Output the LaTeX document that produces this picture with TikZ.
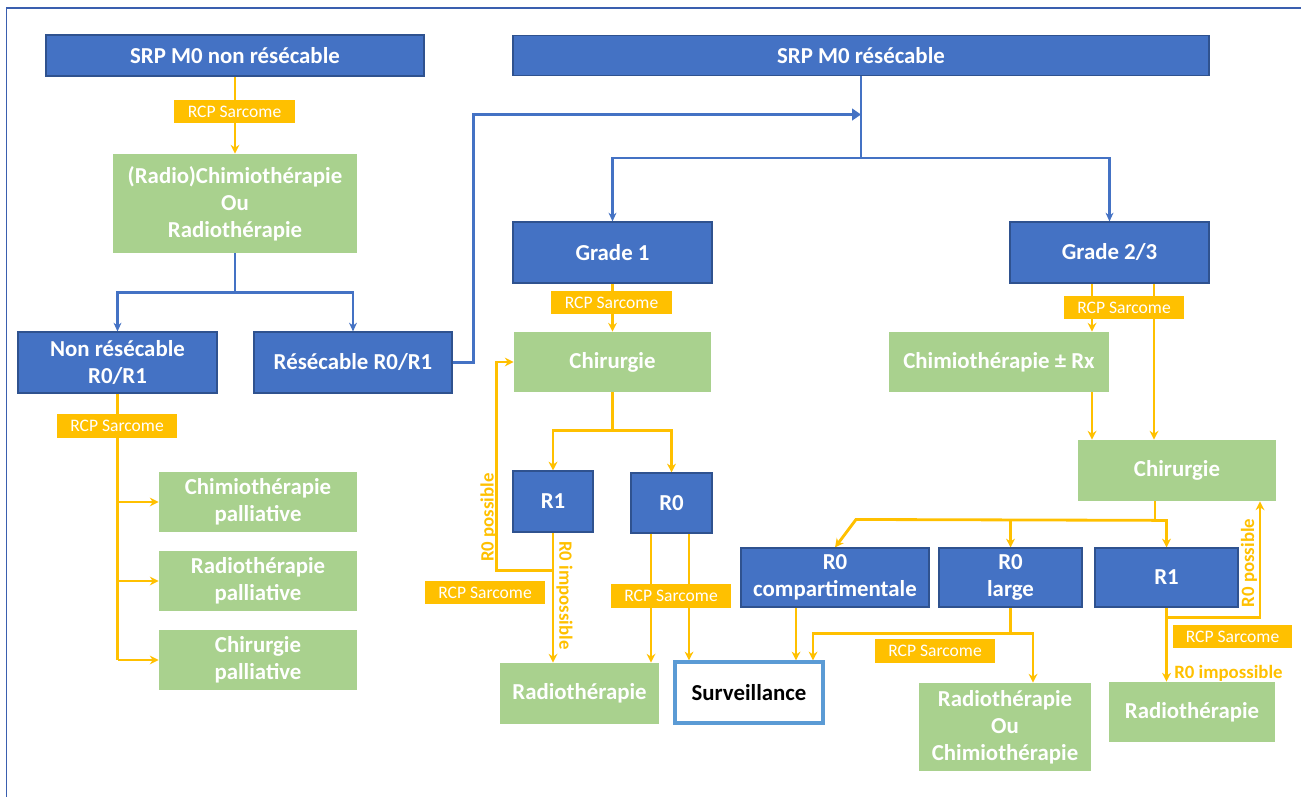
\documentclass[tikz,border=0pt]{standalone}
\usepackage{fontspec}
\setmainfont{Carlito}
\usetikzlibrary{arrows.meta,backgrounds}
\definecolor{boxblue}{HTML}{4472C4}
\definecolor{edgeblue}{HTML}{2F528F}
\definecolor{boxgreen}{HTML}{A9D18E}
\definecolor{rcporange}{HTML}{FFC000}
\definecolor{survblue}{HTML}{5B9BD5}
\definecolor{framecol}{HTML}{3A5FAF}
\tikzset{wh/.style 2 args={minimum width=#1*\px, minimum height=#2*\px}}

\begin{document}
\begin{tikzpicture}[x=0.02cm,y=-0.02cm]
	\def\px{0.02cm}
	\tikzstyle{boxbase} = [rectangle, inner sep=0pt, align=center, font=\bfseries\fontsize{13}{15.3}\selectfont];
	\tikzstyle{bluebox} = [boxbase, draw=edgeblue, line width=0.6pt, fill=boxblue, text=white];
	\tikzstyle{greenbox} = [boxbase, fill=boxgreen, text=white];
	\tikzstyle{survbox} = [boxbase, draw=survblue, line width=1.8pt, fill=white, text=black];
	\tikzstyle{rcp} = [rectangle, inner sep=0pt, fill=rcporange, text=white, font=\fontsize{10}{12}\selectfont];
	\tikzstyle{rnote} = [inner sep=0pt, text=rcporange, font=\bfseries\fontsize{10.7}{12}\selectfont];
	\tikzstyle{bline} = [draw=boxblue, line width=1.6pt];
	\tikzstyle{oline} = [draw=rcporange, line width=1.6pt];
	\tikzstyle{otip} = [-{Stealth[length=5pt,width=5pt]}];
	\tikzstyle{btip} = [-{Stealth[length=5pt,width=4.5pt]}];
	\useasboundingbox (0,0) rectangle (1301,797);
	\draw[framecol, line width=1.1pt] (6.5,797) -- (6.5,8) -- (1301,8);

	% non resecable side
	\node[bluebox, wh={378}{41}] (srpnr) at (235,55.5) {SRP M0 non résécable};
	\node[rcp, wh={121}{23}] (rcpA) at (234.5,111.5) {RCP Sarcome};
	\node[greenbox, wh={244}{99}] (radchim) at (235,203.5) {(Radio)Chimiothérapie\\Ou\\Radiothérapie};
	\node[bluebox, wh={199}{61}] (nonres) at (117.5,362.5) {Non résécable\\R0/R1};
	\node[bluebox, wh={198}{61}] (res) at (353,362.5) {Résécable R0/R1};
	\node[rcp, wh={120}{24}] (rcpH) at (117,426) {RCP Sarcome};
	\foreach \nm/\txt [count=\i] in {pchim/Chimiothérapie, pradio/Radiothérapie, pchir/Chirurgie}
	{
		\node[greenbox, wh={198}{60}] (\nm) at (258,{423+79*\i}) {\txt\\palliative};
	}

	% resecable side
	\node[bluebox, wh={696}{40}] (srpr) at (861,55.5) {SRP M0 résécable};
	\node[bluebox, wh={199}{61}] (grade1) at (612.5,252.5) {Grade 1};
	\node[rcp, wh={121}{23}] (rcpB) at (611.5,302.5) {RCP Sarcome};
	\node[greenbox, wh={197}{60}] (chirA) at (612.5,362) {Chirurgie};
	\node[bluebox, wh={80}{61}] (r1A) at (553,501.5) {R1};
	\node[bluebox, wh={81}{60}] (r0A) at (671.5,503) {R0};
	\node[rcp, wh={120}{23}] (rcpC) at (485,592.5) {RCP Sarcome};
	\node[rcp, wh={120}{24}] (rcpD) at (671,596) {RCP Sarcome};
	\node[greenbox, wh={159}{61}] (radA) at (579.5,693.5) {Radiothérapie};
	\node[survbox, wh={148}{61}] (surv) at (749,692.5) {Surveillance};
	\node[rnote, rotate=90] (possA) at (488.5,517.5) {R0 possible};
	\node[rnote, rotate=-90] (impA) at (564.5,595.5) {R0 impossible};

	\node[bluebox, wh={199}{61}] (grade23) at (1109.5,252.5) {Grade 2/3};
	\node[rcp, wh={120}{23}] (rcpE) at (1124,307.5) {RCP Sarcome};
	\node[greenbox, wh={220}{60}] (chimrx) at (999,362) {Chimiothérapie ± Rx};
	\node[greenbox, wh={198}{61}] (chirB) at (1177,470.5) {Chirurgie};
	\node[bluebox, wh={188}{59}] (r0comp) at (835,577.5) {R0\\compartimentale};
	\node[bluebox, wh={143}{59}] (r0large) at (1010.5,577.5) {R0\\large};
	\node[bluebox, wh={143}{59}] (r1B) at (1166.5,577.5) {R1};
	\node[rcp, wh={120}{24}] (rcpF) at (935,651) {RCP Sarcome};
	\node[greenbox, wh={172}{88}] (radchimB) at (1005,727) {Radiothérapie\\Ou\\Chimiothérapie};
	\node[rcp, wh={119}{23}] (rcpG) at (1232.5,636.5) {RCP Sarcome};
	\node[greenbox, wh={166}{60}] (radB) at (1192,712) {Radiothérapie};
	\node[rnote, rotate=90] (possB) at (1249,563) {R0 possible};
	\node[rnote, anchor=west] (impB) at (1174,673) {R0 impossible};

	\begin{scope}[on background layer]
		% left column
		\draw[oline,otip] (srpnr.south) -- (radchim.north);
		\coordinate (splitA) at ([yshift=-39*\px]radchim.south);
		\draw[bline] (radchim.south) -- (splitA);
		\draw[bline,btip] (splitA) -| (nonres.north);
		\draw[bline,btip] (splitA) -| (res.north);
		\draw[oline] (nonres.south) -- (nonres.south |- pchir.west);
		\foreach \nm in {pchim,pradio,pchir}
			\draw[oline,otip] (nonres.south |- \nm.west) -- (\nm.west);

		% resecable R0/R1 joins the main branch
		\coordinate (bendR) at ([xshift=21*\px]res.east);
		\coordinate (joinR) at ([yshift=-38.5*\px]srpr.south);
		\draw[bline,-{Triangle[length=5pt,width=6.5pt]}] (res.east) -- (bendR) |- (joinR);
		\coordinate (splitB) at ([yshift=-82*\px]srpr.south);
		\draw[bline] (srpr.south) -- (splitB);
		\draw[bline,btip] (splitB) -| (grade1.north);
		\draw[bline,btip] (splitB) -| (grade23.north);

		% grade 1
		\draw[oline,otip] (grade1.south) -- (chirA.north);
		\coordinate (splitE) at ([yshift=-38*\px]chirA.south);
		\draw[oline] (chirA.south) -- (splitE);
		\draw[oline,otip] (splitE) -| (r1A.north);
		\draw[oline,otip] (splitE) -| (r0A.north);
		\draw[oline,otip] (r1A.south) -- (r1A.south |- radA.north);
		\coordinate (r1Abr) at ([yshift=-38*\px]r1A.south);
		\coordinate (bendA) at ([xshift=-17*\px]chirA.west);
		\draw[oline,otip] (r1Abr) -| (bendA) -- (chirA.west);
		\coordinate (r0Aa) at ([xshift=-20.5*\px]r0A.south);
		\coordinate (r0Ab) at ([xshift=17.5*\px]r0A.south);
		\draw[oline,otip] (r0Aa) -- (r0Aa |- radA.north);
		\draw[oline,otip] (r0Ab) -- (r0Ab |- surv.north);

		% grade 2/3
		\coordinate (g23a) at ([xshift=-17.5*\px]grade23.south);
		\coordinate (g23b) at ([xshift=44.5*\px]grade23.south);
		\draw[oline,otip] (g23a) -- (g23a |- chimrx.north);
		\draw[oline,otip] (g23b) -- (g23b |- chirB.north);
		\coordinate (chimrxa) at (chimrx.south -| g23a);
		\draw[oline,otip] (chimrxa) -- (chimrxa |- chirB.north);
		\coordinate (splitD) at ([xshift=-22*\px,yshift=-19*\px]chirB.south);
		\draw[oline] (chirB.south -| splitD) -- (splitD);
		\coordinate (bendD) at ([xshift=21*\px,yshift=28*\px]r0comp.north);
		\draw[oline,otip] (splitD) -- (bendD) -- (r0comp.north);
		\draw[oline,otip] (splitD) -| (r1B.north);
		\draw[oline,otip] (splitD -| r0large.north) -- (r0large.north);
		\coordinate (r0compa) at ([xshift=-39*\px]r0comp.south);
		\draw[oline,otip] (r0compa) -- (r0compa |- surv.north);
		\coordinate (splitC) at ([yshift=-26*\px]r0large.south);
		\draw[oline] (r0large.south) -- (splitC);
		\draw[oline,otip] (splitC) -| ([xshift=64*\px]surv.north);
		\draw[oline,otip] (splitC) -| ([xshift=28*\px]radchimB.north);
		\draw[oline,otip] (r1B.south) -- (r1B.south |- radB.north);
		\coordinate (r1Bbr) at ([yshift=-10*\px]r1B.south);
		\draw[oline,otip] (r1Bbr) -| ([xshift=83*\px]chirB.south);
	\end{scope}
\end{tikzpicture}
\end{document}
